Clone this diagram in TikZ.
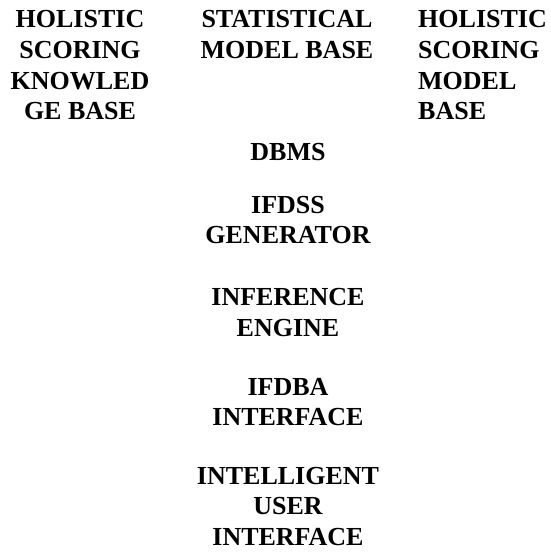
\documentclass[tikz,border=0pt]{standalone}
\usepackage{fontspec}
\setmainfont{Liberation Serif}
\begin{document}
\begin{tikzpicture}[x=1pt,y=-1pt,
  lbl/.style={inner sep=0pt,align=center,anchor=base,font=\bfseries\fontsize{26}{30.5}\selectfont},
  toplbl/.style={lbl,font=\bfseries\fontsize{26}{30.7}\selectfont}]
\useasboundingbox (0,0) rectangle (550,552);
% anchor=base is the baseline of the last line
\node[toplbl] (hskb) at (80,119.7) {HOLISTIC\\SCORING\\KNOWLED\\GE BASE};
\node[toplbl] (smb) at (287,58.3) {STATISTICAL\\MODEL BASE};
\node[toplbl,align=left,anchor=base west] (hsmb) at (418,119.7) {HOLISTIC\\SCORING\\MODEL\\BASE};
\node[lbl] (dbms) at (288,160) {DBMS};
\node[lbl] (gen) at (288,243.5) {IFDSS\\GENERATOR};
\node[lbl] (inf) at (288,336) {INFERENCE\\ENGINE};
\node[lbl] (ifdba) at (288,425.5) {IFDBA\\INTERFACE};
\node[lbl] (iui) at (288,545) {INTELLIGENT\\USER\\INTERFACE};
\end{tikzpicture}
\end{document}
